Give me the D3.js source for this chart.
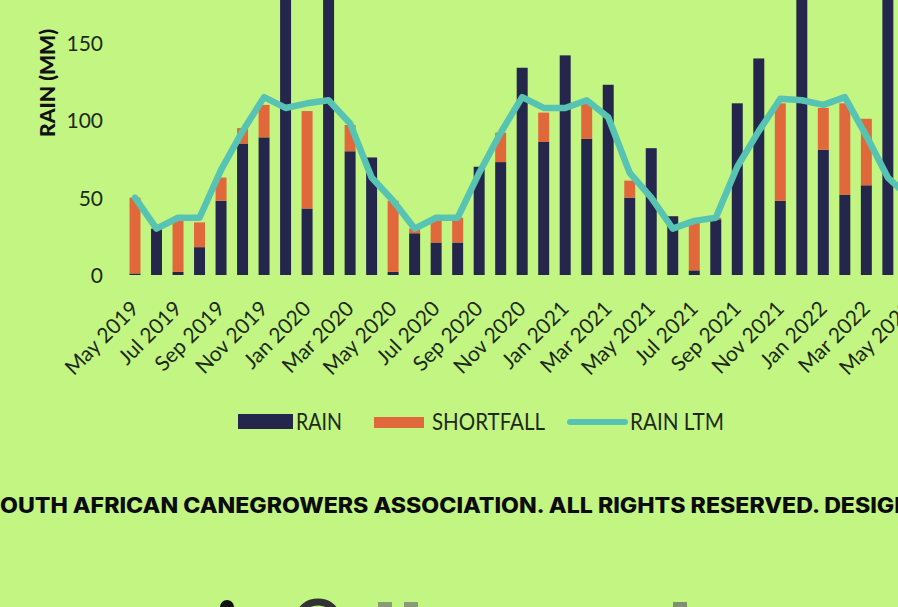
<!DOCTYPE html>
<html>
<head>
<meta charset="utf-8">
<script src="https://cdn.jsdelivr.net/npm/d3@7"></script>
<style>
  html, body { margin: 0; padding: 0; background: #c3f582; overflow: hidden; }
  svg { display: block; }
</style>
</head>
<body>
<svg id="chart" width="898" height="607"></svg>
<script>
// ---------- DATA ----------
const months = [
  "May 2019","Jun 2019","Jul 2019","Aug 2019","Sep 2019","Oct 2019","Nov 2019","Dec 2019",
  "Jan 2020","Feb 2020","Mar 2020","Apr 2020","May 2020","Jun 2020","Jul 2020","Aug 2020",
  "Sep 2020","Oct 2020","Nov 2020","Dec 2020","Jan 2021","Feb 2021","Mar 2021","Apr 2021",
  "May 2021","Jun 2021","Jul 2021","Aug 2021","Sep 2021","Oct 2021","Nov 2021","Dec 2021",
  "Jan 2022","Feb 2022","Mar 2022","Apr 2022","May 2022"
];
const rain = [1,30,2,18,48,85,89,230,43,205,80,76,2,27,21,21,70,73,134,86,142,88,123,50,82,38,3,36,111,140,48,215,81,52,58,260,40];
const shortfall = [49,0,33,16,15,10,21,0,63,0,17,0,46,3,16,16,0,19,0,19,0,23,0,11,0,0,31,1,0,0,63,0,27,59,43,0,10];
const rainLTM = [50,30,37,37,68,93,115,108,111,113,98,63,48,30,37,37,66,92,115,108,108,113,102,66,50,30,35,37,70,93,114,113,110,115,90,63,50];
const yTicks = [0,50,100,150];
const tickLabels = months.filter((m, i) => i % 2 === 0);
const seriesNames = ["RAIN","SHORTFALL","RAIN LTM"];
const colors = { rain: "#25264b", shortfall: "#e0683a", ltm: "#57c3b3" };

// ---------- SCALES ----------
const svg = d3.select("#chart");
const x = d3.scaleBand().domain(months).range([124.25, 124.25 + 21.51 * months.length])
  .paddingInner(0.49).paddingOuter(0.245);
const y = d3.scaleLinear().domain([0, 150]).range([275, 43]);

const textColor = "#1d2a14";

// ---------- Y AXIS ----------
const yAxis = d3.axisLeft(y).tickValues(yTicks).tickSize(0).tickPadding(0);
const yg = svg.append("g").attr("transform", "translate(103,0)").call(yAxis);
yg.select(".domain").remove();
yg.selectAll("text").attr("font-family", "Lato, sans-serif").attr("font-size", 21)
  .attr("fill", textColor).attr("dy", "0.35em");

svg.append("text")
  .attr("transform", "translate(55,83) rotate(-90)")
  .attr("text-anchor", "middle")
  .attr("font-family", "Lato, sans-serif").attr("font-weight", 900)
  .attr("font-size", 20).attr("fill", "#111")
  .attr("textLength", 108).attr("lengthAdjust", "spacingAndGlyphs")
  .text("RAIN (MM)");

// ---------- BARS ----------
const bw = x.bandwidth();
const barG = svg.append("g");
barG.selectAll("rect.rain").data(months).join("rect").attr("class", "rain")
  .attr("x", d => x(d)).attr("width", bw)
  .attr("y", (d, i) => y(rain[i])).attr("height", (d, i) => y(0) - y(rain[i]))
  .attr("fill", colors.rain);
barG.selectAll("rect.short").data(months).join("rect").attr("class", "short")
  .attr("x", d => x(d)).attr("width", bw)
  .attr("y", (d, i) => y(rain[i] + shortfall[i]))
  .attr("height", (d, i) => y(rain[i]) - y(rain[i] + shortfall[i]))
  .attr("fill", colors.shortfall);

// ---------- LINE ----------
const line = d3.line().x((d, i) => x(months[i]) + bw / 2).y(d => y(d));
svg.append("path").datum(rainLTM).attr("d", line)
  .attr("fill", "none").attr("stroke", colors.ltm).attr("stroke-width", 6.5)
  .attr("stroke-linejoin", "round").attr("stroke-linecap", "round");

// ---------- X AXIS LABELS ----------
const xAxis = d3.axisBottom(x).tickValues(tickLabels).tickSize(0).tickPadding(0);
const xg = svg.append("g").attr("transform", "translate(0,310)").call(xAxis);
xg.select(".domain").remove();
xg.selectAll(".tick text")
  .attr("font-family", "Lato, sans-serif").attr("font-size", 21).attr("fill", textColor)
  .attr("text-anchor", "end").attr("dy", 0).attr("y", 0)
  .attr("transform", "translate(5,0) rotate(-45)");

// ---------- LEGEND ----------
const lg = svg.append("g").attr("font-family", "Lato, sans-serif").attr("font-size", 23).attr("fill", "#1f2a18");
lg.append("rect").attr("x", 238).attr("y", 414).attr("width", 55).attr("height", 15).attr("fill", colors.rain);
lg.append("text").attr("x", 296).attr("y", 430).attr("textLength", 46).attr("lengthAdjust", "spacingAndGlyphs").text(seriesNames[0]);
lg.append("rect").attr("x", 374).attr("y", 417).attr("width", 50).attr("height", 11).attr("fill", colors.shortfall);
lg.append("text").attr("x", 432).attr("y", 430).attr("textLength", 113).attr("lengthAdjust", "spacingAndGlyphs").text(seriesNames[1]);
lg.append("line").attr("x1", 570).attr("x2", 625).attr("y1", 422).attr("y2", 422)
  .attr("stroke", colors.ltm).attr("stroke-width", 6).attr("stroke-linecap", "round");
lg.append("text").attr("x", 630).attr("y", 430).attr("textLength", 94).attr("lengthAdjust", "spacingAndGlyphs").text(seriesNames[2]);

// ---------- FOOTER ----------
svg.append("text").attr("x", 0).attr("y", 513)
  .attr("font-family", "Inter, 'Open Sans', sans-serif").attr("font-weight", 800)
  .attr("font-size", 21).attr("fill", "#0b0b0b")
  .attr("textLength", 912).attr("lengthAdjust", "spacingAndGlyphs")
  .text("OUTH AFRICAN CANEGROWERS ASSOCIATION. ALL RIGHTS RESERVED. DESIGN");

// partial glyph tops of the next section at the very bottom
const deco = svg.append("g");
deco.append("circle").attr("cx", 227).attr("cy", 607).attr("r", 7).attr("fill", "#111");
deco.append("ellipse").attr("cx", 318).attr("cy", 614).attr("rx", 17).attr("ry", 12).attr("fill", "none").attr("stroke", "#333").attr("stroke-width", 7);
deco.append("rect").attr("x", 378).attr("y", 602).attr("width", 14).attr("height", 5).attr("fill", "#8a9a78");
deco.append("rect").attr("x", 404).attr("y", 602).attr("width", 14).attr("height", 5).attr("fill", "#8a9a78");
deco.append("rect").attr("x", 673).attr("y", 602).attr("width", 14).attr("height", 5).attr("fill", "#7f8f70");
</script>
</body>
</html>
